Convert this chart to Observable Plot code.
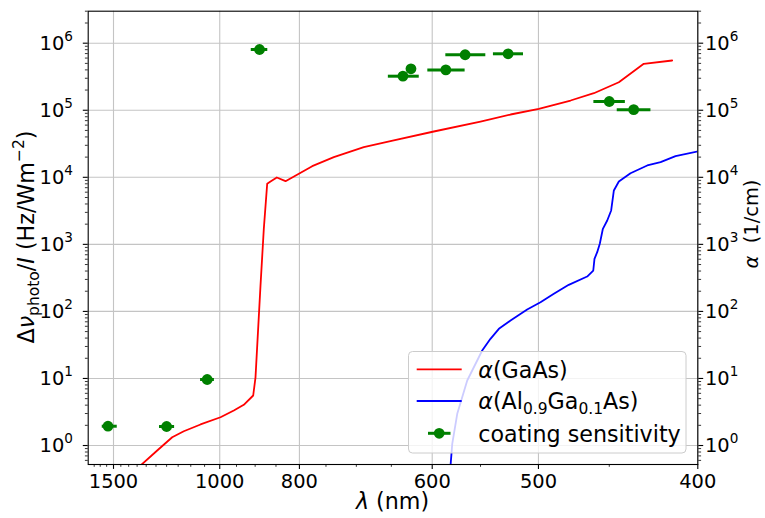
<!DOCTYPE html>
<html>
<head>
<meta charset="utf-8">
<script src="https://cdn.jsdelivr.net/npm/d3@7"></script>
<script src="https://cdn.jsdelivr.net/npm/@observablehq/plot@0.6"></script>
<style>
  html, body { margin: 0; padding: 0; background: white; }
  svg text { font-family: "DejaVu Sans", sans-serif; }
</style>
</head>
<body>
<div id="chart"></div>
<script>
// ---- data (wavelength in nm) ----
const gaasLambda = [1371, 1330.9, 1244.1, 1175.3, 1127.1, 1064.2, 997.6, 957.7, 929.8, 905.0, 899.1, 886.6, 878.5, 870.4, 862.6, 848.1, 828.9, 775.1, 736.4, 688.7, 646.8, 598.2, 550.0, 522.9, 499.7, 476.0, 460.0, 444.0, 429.1, 413.3];
const gaasAlpha  = [0.395, 0.503, 0.842, 1.33, 1.63, 2.06, 2.64, 3.33, 4.05, 5.57, 10.4, 243, 1706, 8000, 8650, 9930, 8750, 14650, 19950, 28130, 35400, 48200, 67900, 86400, 105100, 139700, 179400, 261900, 493000, 552000];

const alganLambda = [580.4, 578.2, 573.0, 562.9, 548.4, 540.7, 533.1, 522.9, 509.0, 498.4, 488.2, 477.3, 464.5, 460.4, 459.6, 457.8, 456.1, 454.1, 451.3, 448.8, 447.1, 444.0, 436.9, 427.1, 419.6, 411.5, 399.5];
const alganAlpha  = [0.42, 1.06, 2.97, 9.32, 26.1, 39.0, 55.0, 73.2, 106.7, 137, 183, 249, 331, 407, 609, 764, 1019, 1706, 2268, 3200, 6360, 8650, 11510, 15000, 16800, 20650, 24500];

const sensLambda = [1540, 1200, 1041, 889, 635, 625, 585, 565, 525, 450, 435];
const sensLow    = [1474, 1165, 1017, 869, 615, 625, 565, 545, 512, 440, 425];
const sensHigh   = [1584, 1233, 1064, 910, 654, 625, 605, 585, 538, 460, 445];
const sensValue  = [1.94, 1.92, 9.65, 8.05e5, 3.22e5, 4.15e5, 4.0e5, 6.72e5, 6.95e5, 1.35e5, 1.02e5];

const xTickLabels = [1500, 1000, 800, 600, 500, 400];
const xMinorLabels = [1650, 1600, 1550, 1450, 1400, 1350, 1300, 1250, 1200, 1150, 1100, 1050, 950, 900, 850, 750, 700, 650, 550, 450];
const yExponents = [0, 1, 2, 3, 4, 5, 6];

// ---- derived tables ----
const inv = l => 1000 / l;  // plotted against 1/lambda (um^-1)
const gaas = gaasLambda.map((l, i) => ({u: inv(l), v: gaasAlpha[i]}));
const algan = alganLambda.map((l, i) => ({u: inv(l), v: alganAlpha[i]}));
const sens = sensLambda.map((l, i) => ({u: inv(l), lo: inv(sensHigh[i]), hi: inv(sensLow[i]), v: sensValue[i]}));
const yMajor = yExponents.map(e => 10 ** e);
const yMinor = [];
for (let e = -1; e <= 6; e++) for (let m = 2; m <= 9; m++) {
  const v = m * 10 ** e;
  if (v >= 0.521 && v <= 3.0e6) yMinor.push(v);
}
const xMajor = xTickLabels.map(inv);
const xMinor = xMinorLabels.map(inv);

const gridStyle = {stroke: "#c4c4c4", strokeOpacity: 1, strokeWidth: 1.1};
const majorTick = {tickSize: 4.9, strokeWidth: 1.1, label: null};
const minorTick = {tickSize: 2.8, strokeWidth: 0.8, label: null, tickFormat: () => ""};

const plot = Plot.plot({
  width: 765,
  height: 518,
  marginLeft: 87.7,
  marginRight: 67.7,
  marginTop: 10.7,
  marginBottom: 54,
  style: {fontFamily: "DejaVu Sans", fontSize: "19.44px", background: "white", color: "black"},
  x: {type: "linear", domain: [inv(1702.8), 2.5]},
  y: {type: "log", domain: [0.521, 3.0e6]},
  marks: [
    Plot.gridX(xMajor, gridStyle),
    Plot.gridY(yMajor, gridStyle),
    Plot.line(gaas, {x: "u", y: "v", stroke: "red", strokeWidth: 1.8, clip: true}),
    Plot.line(algan, {x: "u", y: "v", stroke: "blue", strokeWidth: 1.8, clip: true}),
    Plot.ruleY(sens, {y: "v", x1: "lo", x2: "hi", stroke: "green", strokeWidth: 3}),
    Plot.dot(sens, {x: "u", y: "v", r: 5.4, fill: "green", stroke: null}),
    Plot.frame({stroke: "black", strokeWidth: 1.1}),
    Plot.axisX({ticks: xMajor, anchor: "bottom", ...majorTick, tickPadding: 5, tickFormat: d => String(Math.round(1000 / d)), fontSize: 19.44}),
    Plot.axisX({ticks: xMinor, anchor: "bottom", ...minorTick}),
    Plot.axisY({ticks: yMajor, anchor: "left", ...majorTick, tickFormat: () => ""}),
    Plot.axisY({ticks: yMinor, anchor: "left", ...minorTick}),
    Plot.axisY({ticks: yMajor, anchor: "right", ...majorTick, tickFormat: () => ""}),
    Plot.axisY({ticks: yMinor, anchor: "right", ...minorTick})
  ]
});

document.getElementById("chart").appendChild(plot);

// ---- text decorations ----
const svg = d3.select(plot);
const ys = plot.scale("y");
const FF = "DejaVu Sans";

// y tick labels 10^k (left and right)
for (const e of yExponents) {
  const yy = ys.apply(10 ** e);
  for (const side of ["left", "right"]) {
    const t = svg.append("text")
      .attr("x", side === "left" ? 73 : 705)
      .attr("y", yy + 7.1)
      .attr("text-anchor", side === "left" ? "end" : "start")
      .attr("font-family", FF).attr("font-size", 19.44).attr("fill", "black");
    t.append("tspan").text("10");
    t.append("tspan").attr("font-size", 13.6).attr("dy", -9).text(String(e));
  }
}

// x axis label
{
  const t = svg.append("text").attr("x", 392.5).attr("y", 509)
    .attr("text-anchor", "middle").attr("font-family", FF).attr("font-size", 22.2).attr("fill", "black");
  t.append("tspan").attr("font-style", "italic").text("λ");
  t.append("tspan").text(" (nm)");
}

// left y label
{
  const t = svg.append("text").attr("transform", "translate(34,237) rotate(-90)")
    .attr("text-anchor", "middle").attr("font-family", FF).attr("font-size", 22.2).attr("fill", "black");
  t.append("tspan").text("Δ");
  t.append("tspan").attr("font-style", "italic").text("ν");
  t.append("tspan").attr("font-size", 15.5).attr("dy", 5).text("photo");
  t.append("tspan").attr("dy", -5).text("/");
  t.append("tspan").attr("font-style", "italic").text("I");
  t.append("tspan").text(" (Hz/Wm");
  t.append("tspan").attr("font-size", 15.5).attr("dy", -10).text("−2");
  t.append("tspan").attr("dy", 10).text(")");
}

// right y label
{
  const t = svg.append("text").attr("transform", "translate(758,224) rotate(-90)")
    .attr("text-anchor", "middle").attr("font-family", FF).attr("font-size", 19.44).attr("fill", "black");
  t.append("tspan").attr("font-style", "italic").text("α");
  t.append("tspan").text("\u00a0\u00a0(1/cm)");
}

// legend
{
  const g = svg.append("g").attr("text-anchor", "start");
  g.append("rect").attr("x", 408.5).attr("y", 351.5).attr("width", 277.5).attr("height", 101.5)
    .attr("rx", 4).attr("fill", "white").attr("fill-opacity", 0.8).attr("stroke", "#cccccc").attr("stroke-width", 1);
  g.append("line").attr("x1", 416.7).attr("x2", 461.7).attr("y1", 369.3).attr("y2", 369.3)
    .attr("stroke", "red").attr("stroke-width", 1.8);
  g.append("line").attr("x1", 416.7).attr("x2", 461.7).attr("y1", 401).attr("y2", 401)
    .attr("stroke", "blue").attr("stroke-width", 1.8);
  g.append("line").attr("x1", 428).attr("x2", 450.5).attr("y1", 433.3).attr("y2", 433.3)
    .attr("stroke", "green").attr("stroke-width", 3);
  g.append("circle").attr("cx", 439.2).attr("cy", 433.3).attr("r", 5.4).attr("fill", "green");

  const mk = (y) => g.append("text").attr("x", 478.3).attr("y", y).attr("text-anchor", "start")
    .attr("font-family", FF).attr("font-size", 22.2).attr("fill", "black");
  let t = mk(377.5);
  t.append("tspan").attr("font-style", "italic").text("α");
  t.append("tspan").text("(GaAs)");
  t = mk(409.2);
  t.append("tspan").attr("font-style", "italic").text("α");
  t.append("tspan").text("(Al");
  t.append("tspan").attr("font-size", 15.5).attr("dy", 4.5).text("0.9");
  t.append("tspan").attr("dy", -4.5).text("Ga");
  t.append("tspan").attr("font-size", 15.5).attr("dy", 4.5).text("0.1");
  t.append("tspan").attr("dy", -4.5).text("As)");
  t = mk(441.5);
  t.text("coating sensitivity");
}
</script>
</body>
</html>
